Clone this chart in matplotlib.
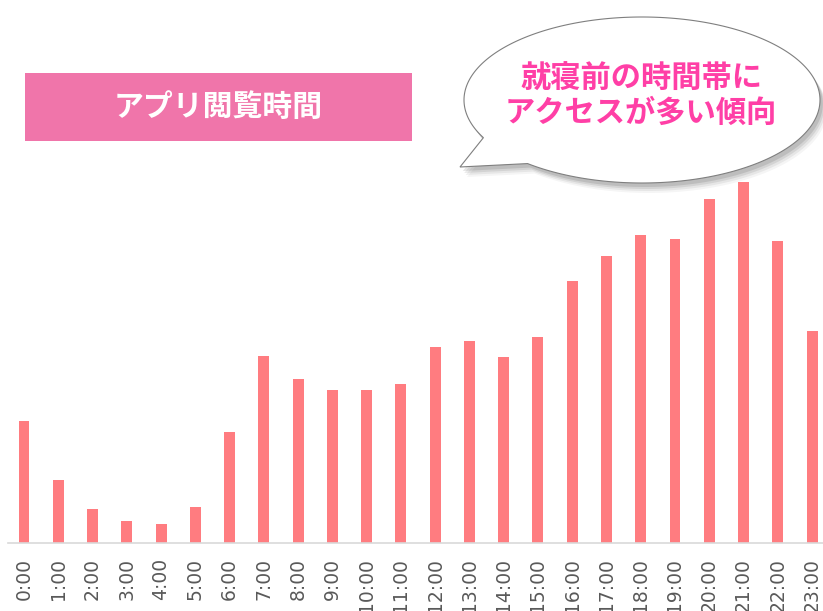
import numpy as np
import matplotlib
matplotlib.use("Agg")
import matplotlib.pyplot as plt
from matplotlib.patches import Rectangle, Polygon

plt.rcParams['font.family'] = ['Noto Sans CJK JP', 'DejaVu Sans']

# hourly app viewing time (relative units)
hours = [f"{h}:00" for h in range(24)]
views = [122, 63, 34, 22, 19, 36, 111, 187, 164, 153, 153, 159,
         196, 202, 186, 206, 262, 287, 308, 304, 344, 361, 302, 212]

title = "アプリ閲覧時間"
bubble_text = "就寝前の時間帯に\nアクセスが多い傾向"

W, H = 823, 611
fig = plt.figure(figsize=(W / 100, H / 100), dpi=100)

# main bar axes, placed in pixel terms
ax = fig.add_axes([8 / W, 1 - 543 / H, 1 - 8 / W, 543 / H])
x = np.arange(len(hours))
ax.bar(x, views, width=0.32, color="#FF7C80")
ax.set_xlim(-0.467, 23.32)
ax.set_ylim(0, 543)
ax.set_xticks(x)
ax.set_xticklabels(hours, rotation=90, fontsize=13.5, color="#595959",
                   family="DejaVu Sans", va="top")
ax.tick_params(axis="x", length=0, pad=11)
ax.set_yticks([])
for s in ["top", "right", "left"]:
    ax.spines[s].set_visible(False)
ax.spines["bottom"].set_color("#D9D9D9")
ax.spines["bottom"].set_linewidth(1.2)
ax.patch.set_alpha(0)

# overlay axes in pixel coords for the annotations
ov = fig.add_axes([0, 0, 1, 1])
ov.set_xlim(0, W)
ov.set_ylim(H, 0)
ov.axis("off")
ov.patch.set_alpha(0)

ov.add_patch(Rectangle((25, 73), 387, 68, facecolor="#F075AA", edgecolor="none"))
ov.text(218, 107, title, color="white", fontsize=21.5, fontweight="bold",
        ha="center", va="center")

# speech bubble: ellipse with a tail toward lower left
cx, cy, a, b = 642, 100, 178, 83
t = np.radians(np.linspace(0, 360, 361))
pts = []
for ang in t:
    deg = np.degrees(ang)
    if 130 < deg < 153:
        continue
    pts.append((cx + a * np.cos(ang), cy + b * np.sin(ang)))
    if abs(deg - 130) < 0.5:
        pts.append((460, 167))
pts = np.array(pts)

for off, al in [(10, 0.04), (8, 0.06), (6, 0.08), (4, 0.1)]:
    ov.add_patch(Polygon(pts + [off * 0.7, off], closed=True,
                         facecolor="black", edgecolor="none", alpha=al))
ov.add_patch(Polygon(pts, closed=True, facecolor="white",
                     edgecolor="#7F7F7F", linewidth=0.8))
ov.text(641, 96, bubble_text, color="#FF3FA6", fontsize=21.8, fontweight="bold",
        ha="center", va="center", linespacing=1.1)

fig.savefig("out.png", dpi=100)
